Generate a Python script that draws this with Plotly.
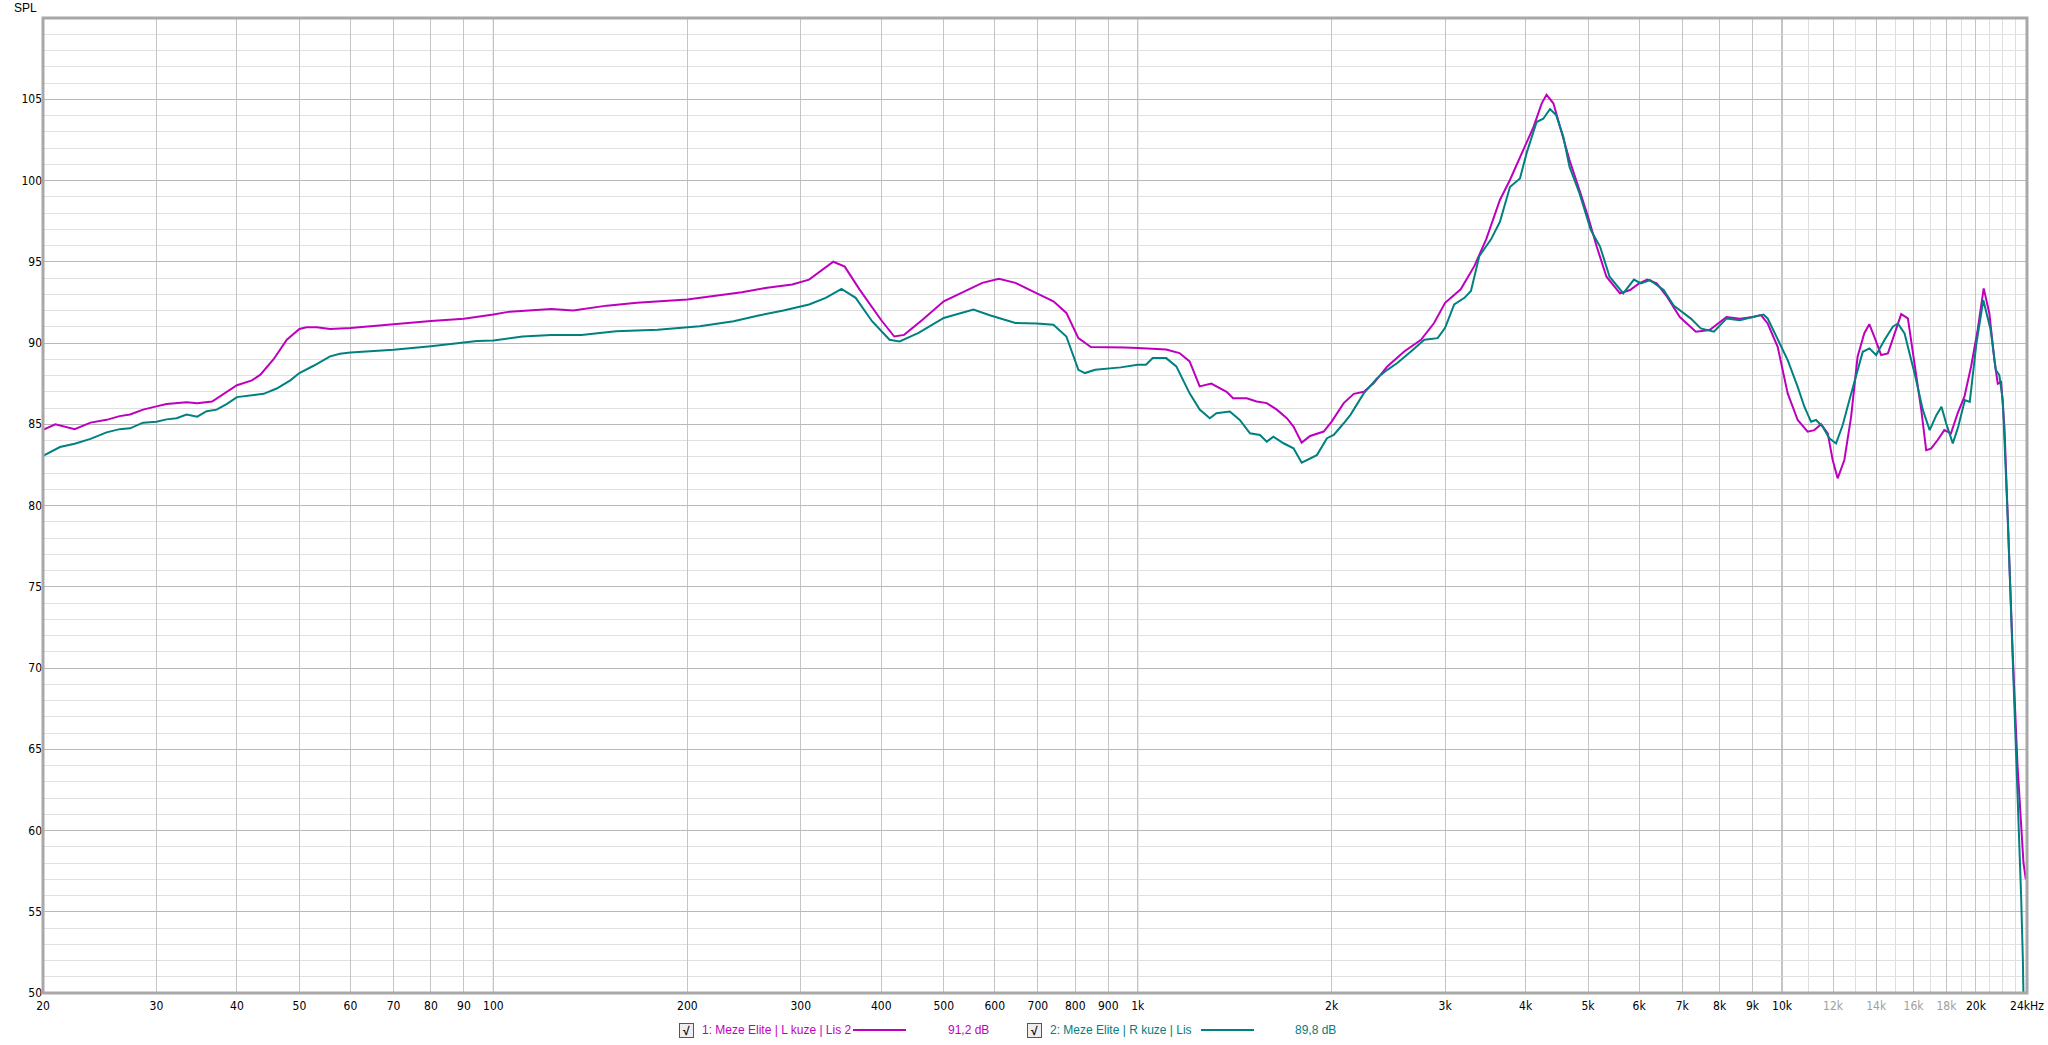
import math
import plotly.graph_objects as go

# ---------------- data ----------------
freq_L = [20, 20.9, 22.4, 23.7, 25.1, 26.3, 27.3, 28.6, 30, 31.1, 33.4, 34.7, 36.6, 38.6, 40, 42.2, 43.5,
          45.6, 47.8, 50, 51.3, 53.2, 55.8, 60, 70, 76, 80, 90, 100, 106, 123, 133, 150, 167, 200, 215, 243,
          266, 291, 309, 324, 337, 351, 370, 400, 419, 434, 464, 500, 531, 574, 609, 646, 686, 740, 775, 809,
          846, 900, 955, 1000, 1043, 1107, 1161, 1204, 1248, 1301, 1374, 1406, 1476, 1530, 1586, 1644, 1704,
          1745, 1797, 1852, 1944, 2000, 2088, 2165, 2244, 2325, 2440, 2592, 2752, 2884, 3000, 3172, 3330,
          3474, 3649, 3782, 3967, 4115, 4237, 4311, 4417, 4541, 4679, 4850, 5000, 5158, 5340, 5604, 5810,
          6000, 6180, 6390, 6630, 6940, 7350, 7720, 8200, 8600, 9010, 9277, 9500, 9846, 10205, 10576, 10960,
          11225, 11496, 11775, 11985, 12200, 12495, 12800, 13100, 13420, 13660, 13910, 14250, 14600, 14950,
          15310, 15680, 16060, 16450, 16740, 17030, 17440, 17860, 18290, 18730, 19190, 19650, 20120, 20560,
          20980, 21360, 21620, 21880, 22140, 22410, 22800, 23200, 23500, 23700, 23900]
spl_L = [84.65, 85.0, 84.7, 85.1, 85.27, 85.5, 85.6, 85.9, 86.1, 86.25, 86.36, 86.3, 86.4, 87.0, 87.4, 87.7,
         88.05, 89.0, 90.2, 90.86, 90.97, 90.97, 90.86, 90.93, 91.13, 91.28, 91.36, 91.5, 91.75, 91.93, 92.1,
         92.0, 92.3, 92.47, 92.67, 92.84, 93.13, 93.4, 93.6, 93.9, 94.5, 95.0, 94.7, 93.3, 91.4, 90.4, 90.5,
         91.44, 92.57, 93.05, 93.7, 93.95, 93.7, 93.19, 92.57, 91.85, 90.3, 89.75, 89.75, 89.73, 89.7, 89.65,
         89.6, 89.38, 88.87, 87.33, 87.5, 87.0, 86.6, 86.6, 86.4, 86.3, 85.9, 85.37, 84.86, 83.87, 84.28,
         84.55, 85.16, 86.3, 86.87, 87.0, 87.53, 88.56, 89.48, 90.2, 91.23, 92.47, 93.3, 94.73, 96.38, 98.8,
         100.03, 101.88, 103.3, 104.75, 105.27, 104.75, 103.1, 101.26, 99.4, 97.77, 95.92, 94.08, 93.05,
         93.26, 93.67, 93.9, 93.67, 92.85, 91.6, 90.7, 90.8, 91.6, 91.5, 91.6, 91.72, 91.2, 89.77, 86.9,
         85.26, 84.54, 84.64, 85.0, 84.44, 82.8, 81.67, 82.8, 85.46, 89.15, 90.6, 91.16, 90.38, 89.26, 89.36,
         90.6, 91.78, 91.51, 88.74, 85.87, 83.4, 83.5, 84.03, 84.64, 84.44, 85.67, 86.7, 88.54, 90.8, 93.36,
         91.82, 88.95, 87.5, 87.6, 84.85, 79.1, 71.0, 64.0, 60.0, 58.0, 57.0]

freq_R = [20, 21.25, 22.4, 23.7, 25.1, 26.3, 27.3, 28.6, 30, 31.1, 32.25, 33.4, 34.7, 35.9, 37.2, 38.6, 40,
          42.2, 44, 46.1, 48.4, 50, 52.6, 55.8, 57.8, 60, 70, 80, 90, 94.3, 100, 111, 123, 137, 155, 180, 209,
          236, 258, 282, 309, 328, 347, 365, 387, 412, 427, 457, 500, 556, 591, 646, 697, 740, 775, 809, 828,
          859, 941, 1000, 1030, 1055, 1107, 1148, 1204, 1248, 1294, 1325, 1390, 1440, 1494, 1548, 1586, 1624,
          1684, 1745, 1797, 1852, 1897, 1967, 2015, 2088, 2139, 2244, 2353, 2440, 2529, 2655, 2785, 2921, 3000,
          3099, 3215, 3290, 3390, 3535, 3649, 3782, 3920, 4015, 4160, 4260, 4365, 4460, 4576, 4679, 4850, 5050,
          5220, 5400, 5670, 5890, 6040, 6240, 6550, 6790, 7220, 7480, 7840, 8200, 8600, 9010, 9360, 9500, 9846,
          10205, 10576, 10831, 11093, 11292, 11565, 11844, 12130, 12423, 12723, 13030, 13345, 13667, 13997,
          14422, 14860, 15130, 15495, 16060, 16545, 16950, 17360, 17680, 17980, 18410, 18770, 19220, 19560,
          20030, 20530, 21080, 21470, 21740, 22010, 22410, 22800, 23200, 23500, 23650, 23800]
spl_R = [83.05, 83.6, 83.8, 84.1, 84.5, 84.7, 84.75, 85.1, 85.16, 85.3, 85.37, 85.6, 85.47, 85.8, 85.9, 86.25,
         86.67, 86.8, 86.87, 87.2, 87.7, 88.15, 88.6, 89.18, 89.34, 89.42, 89.59, 89.8, 90.0, 90.12, 90.15,
         90.4, 90.5, 90.5, 90.72, 90.82, 91.03, 91.34, 91.69, 92.0, 92.37, 92.78, 93.33, 92.78, 91.34, 90.2,
         90.1, 90.62, 91.54, 92.06, 91.69, 91.23, 91.2, 91.13, 90.4, 88.35, 88.15, 88.35, 88.5, 88.66, 88.66,
         89.07, 89.07, 88.56, 86.9, 85.9, 85.37, 85.68, 85.78, 85.27, 84.44, 84.34, 83.93, 84.24, 83.83, 83.52,
         82.63, 82.9, 83.1, 84.14, 84.34, 85.06, 85.58, 86.91, 87.84, 88.35, 88.77, 89.48, 90.2, 90.3, 90.93,
         92.37, 92.78, 93.2, 95.35, 96.38, 97.46, 99.6, 100.13, 101.7, 103.6, 103.8, 104.4, 104.03, 102.7,
         100.85, 99.2, 96.95, 95.92, 94.08, 93.05, 93.9, 93.67, 93.87, 93.26, 92.3, 91.5, 90.9, 90.7, 91.5,
         91.4, 91.6, 91.75, 91.51, 90.18, 88.95, 87.3, 86.08, 85.15, 85.26, 84.85, 84.13, 83.82, 84.95, 86.49,
         87.92, 89.46, 89.67, 89.26, 90.18, 91.0, 91.2, 90.59, 88.13, 85.87, 84.64, 85.56, 86.08, 85.05, 83.82,
         84.85, 86.49, 86.38, 89.97, 92.64, 90.8, 88.33, 88.03, 86.49, 79.1, 71.0, 63.0, 56.0, 52.0, 45.0]

series_names = ["1: Meze Elite | L kuze | Lis 2", "2: Meze Elite | R kuze | Lis"]
series_levels = ["91,2 dB", "89,8 dB"]

x_tick_vals = [20, 30, 40, 50, 60, 70, 80, 90, 100, 200, 300, 400, 500, 600, 700, 800, 900, 1000,
               2000, 3000, 4000, 5000, 6000, 7000, 8000, 9000, 10000, 12000, 14000, 16000, 18000, 20000, 24000]
x_tick_text = ["20", "30", "40", "50", "60", "70", "80", "90", "100", "200", "300", "400", "500", "600",
               "700", "800", "900", "1k", "2k", "3k", "4k", "5k", "6k", "7k", "8k", "9k", "10k",
               "12k", "14k", "16k", "18k", "20k", "24kHz"]
x_grey_labels = ["12k", "14k", "16k", "18k"]
x_minor_vals = [11000, 13000, 15000, 17000, 19000, 21000, 22000, 23000]
x_decades = [100, 1000, 10000]
y_tick_vals = [50, 55, 60, 65, 70, 75, 80, 85, 90, 95, 100, 105]

# ---------------- layout constants ----------------
W, H = 2048, 1045
L, R, T, B = 43, 2027, 18, 993   # plot area in window pixels
MAG = "#BE00BE"
TEAL = "#008080"


def px(xp):
    return (xp - L) / (R - L)


def py(yp):
    return (B - yp) / (B - T)


fig = go.Figure()
fig.add_trace(go.Scatter(x=freq_L, y=spl_L, mode="lines", line=dict(color=MAG, width=2),
                         name=series_names[0], showlegend=False, hoverinfo="skip"))
fig.add_trace(go.Scatter(x=freq_R, y=spl_R, mode="lines", line=dict(color=TEAL, width=2),
                         name=series_names[1], showlegend=False, hoverinfo="skip"))

ticktext = [f'<span style="color:#a0a0a0">{t}</span>' if t in x_grey_labels else t for t in x_tick_text]

tickfont = dict(family="Liberation Sans Narrow, DejaVu Sans Condensed, Liberation Sans, Arial", size=12,
                color="#000000")

fig.update_xaxes(type="log", range=[math.log10(20), math.log10(24000)], automargin=False,
                 tickmode="array", tickvals=x_tick_vals, ticktext=ticktext, tickfont=tickfont,
                 ticklabelstandoff=4, ticklabeloverflow="allow",
                 showgrid=True, gridcolor="#c4c4c4", gridwidth=1, zeroline=False,
                 ticks="", showline=False,
                 minor=dict(tickmode="array", tickvals=x_minor_vals, showgrid=True,
                            gridcolor="#dedede", gridwidth=1))
fig.update_yaxes(range=[50, 110], automargin=False, tickmode="array", tickvals=y_tick_vals,
                 ticktext=[str(v) for v in y_tick_vals], tickfont=tickfont,
                 showgrid=True, gridcolor="#b8b8b8", gridwidth=1, zeroline=False, ticks="",
                 minor=dict(dtick=1, showgrid=True, gridcolor="#e0e0e0", gridwidth=1))

shapes = []
for d in x_decades:
    shapes.append(dict(type="line", xref="x", yref="paper", x0=d, x1=d, y0=0, y1=1,
                       line=dict(color="#858585", width=1), layer="below"))
# frame
shapes.append(dict(type="rect", xref="paper", yref="paper", x0=0, x1=1, y0=0, y1=1,
                   line=dict(color="#a8a8a8", width=3), layer="above"))
# legend line samples
shapes.append(dict(type="line", xref="paper", yref="paper", x0=px(853), x1=px(906), y0=py(1030), y1=py(1030),
                   line=dict(color=MAG, width=2)))
shapes.append(dict(type="line", xref="paper", yref="paper", x0=px(1201), x1=px(1254), y0=py(1030), y1=py(1030),
                   line=dict(color=TEAL, width=2)))

legfont = "Liberation Sans, Arial, sans-serif"
ann = [
    dict(x=px(39), y=py(8), xref="paper", yref="paper", text="SPL", showarrow=False, xanchor="right",
         yanchor="middle", font=dict(family=legfont, size=12, color="#000")),
]
for cx in (686, 1034):
    ann.append(dict(x=px(cx), y=py(1030), xref="paper", yref="paper", text="<b>√</b>", showarrow=False,
                    xanchor="center", yanchor="middle", bgcolor="#eeeeee", bordercolor="#555555",
                    borderwidth=1, borderpad=0, width=13, height=13,
                    font=dict(family=legfont, size=12, color="#000")))
ann.append(dict(x=px(700), y=py(1030), xref="paper", yref="paper", text=series_names[0], showarrow=False,
                xanchor="left", yanchor="middle", font=dict(family=legfont, size=12, color=MAG)))
ann.append(dict(x=px(991), y=py(1030), xref="paper", yref="paper", text=series_levels[0], showarrow=False,
                xanchor="right", yanchor="middle", font=dict(family=legfont, size=12, color=MAG)))
ann.append(dict(x=px(1048), y=py(1030), xref="paper", yref="paper", text=series_names[1], showarrow=False,
                xanchor="left", yanchor="middle", font=dict(family=legfont, size=12, color=TEAL)))
ann.append(dict(x=px(1338), y=py(1030), xref="paper", yref="paper", text=series_levels[1], showarrow=False,
                xanchor="right", yanchor="middle", font=dict(family=legfont, size=12, color=TEAL)))

fig.update_layout(width=W, height=H, autosize=False,
                  margin=dict(l=L, r=W - R, t=T, b=H - B, pad=0, autoexpand=False),
                  paper_bgcolor="#ffffff", plot_bgcolor="#ffffff", shapes=shapes, annotations=ann,
                  showlegend=False, hovermode=False)

fig.write_html("out.html",
               config={"displayModeBar": False, "responsive": False},
               post_script="document.body.style.margin='0';document.body.style.overflow='hidden';")
